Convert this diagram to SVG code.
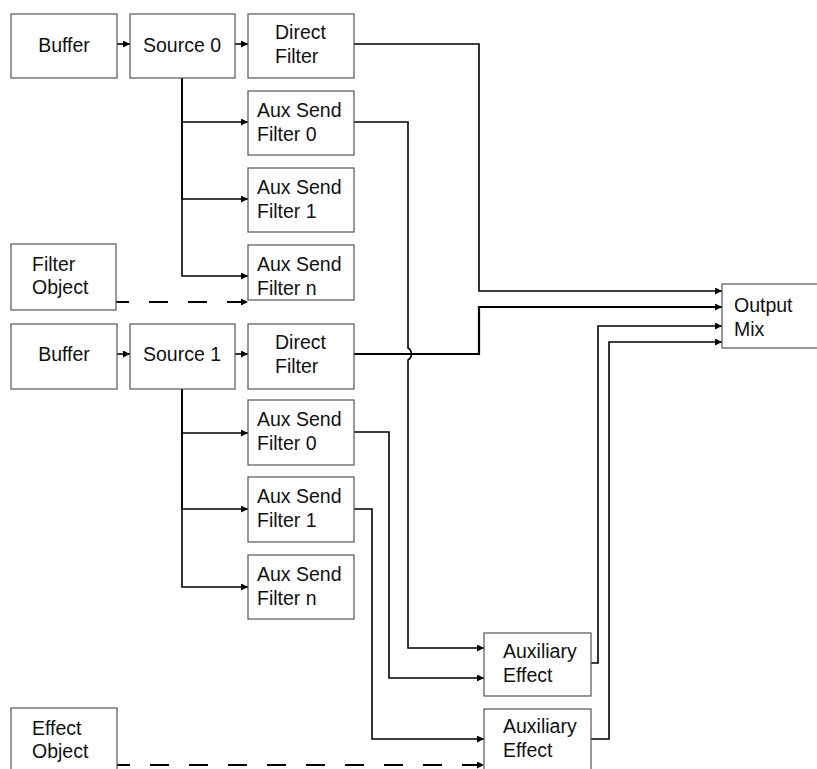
<svg xmlns="http://www.w3.org/2000/svg" width="817" height="769" viewBox="0 0 817 769">
<defs>
<style>
.box{fill:#fff;stroke:#555;stroke-width:1.2}
text{font-family:"Liberation Sans",Arial,sans-serif;font-size:19.5px;fill:#111}
.c{text-anchor:middle}
.ln{fill:none;stroke:#000;stroke-width:1.6;marker-end:url(#ah)}
.th{stroke-width:2.2}
.ds{fill:none;stroke:#000;stroke-width:1.8;stroke-dasharray:19 20;stroke-dashoffset:6;marker-end:url(#ah)}
</style>
<marker id="ah" viewBox="0 0 7 7" refX="7" refY="3.5" markerWidth="7" markerHeight="7" markerUnits="userSpaceOnUse" orient="auto">
<path d="M0,0 L7,3.5 L0,7 z" fill="#000"/>
</marker>
</defs>
<rect width="817" height="769" fill="#fff"/>
<g id="connectors">
<path class="ln" d="M117,44 H130"/>
<path class="ln" d="M235,44 H248"/>
<path class="ln" d="M182,78 V122 H248"/>
<path class="ln" d="M182,78 V199 H248"/>
<path class="ln" d="M182,78 V276 H248"/>
<path class="ds" d="M116,302 H248"/>
<path class="ln" d="M354,44 H479 V291 H722"/>
<path class="ln" d="M354,122 H408 V348 A7 7 0 0 1 408,360 V648 H484"/>
<path class="ln" d="M117,354 H130"/>
<path class="ln" d="M235,354 H248"/>
<path class="ln th" d="M354,354 H479 V307 H722"/>
<path class="ln" d="M182,389 V433 H248"/>
<path class="ln" d="M182,389 V509 H248"/>
<path class="ln" d="M182,389 V587 H248"/>
<path class="ln" d="M354,432 H389 V678 H484"/>
<path class="ln" d="M354,509 H372 V739 H484"/>
<path class="ln" d="M591,663 H598 V326 H722"/>
<path class="ln" d="M591,739 H609 V342 H722"/>
<path class="ds" d="M117,765 H484"/>
</g>
<g id="buffer0"><rect class="box" x="11" y="14" width="106" height="64"/><text class="c" x="64" y="52">Buffer</text></g>
<g id="source0"><rect class="box" x="130" y="14" width="105" height="64"/><text class="c" x="182" y="52">Source 0</text></g>
<g id="direct0"><rect class="box" x="248" y="14" width="106" height="64"/><text x="275" y="39">Direct</text><text x="275" y="63">Filter</text></g>
<g id="aux0_0"><rect class="box" x="248" y="91" width="106" height="64"/><text x="257" y="117">Aux Send</text><text x="257" y="141">Filter 0</text></g>
<g id="aux0_1"><rect class="box" x="248" y="168" width="106" height="64"/><text x="257" y="194">Aux Send</text><text x="257" y="218">Filter 1</text></g>
<g id="aux0_n"><rect class="box" x="248" y="245" width="106" height="55"/><text x="257" y="271">Aux Send</text><text x="257" y="295">Filter n</text></g>
<g id="filterobj"><rect class="box" x="11" y="244" width="105" height="66"/><text x="32" y="271">Filter</text><text x="32" y="294">Object</text></g>
<g id="buffer1"><rect class="box" x="11" y="324" width="106" height="65"/><text class="c" x="64" y="361">Buffer</text></g>
<g id="source1"><rect class="box" x="130" y="324" width="105" height="65"/><text class="c" x="182" y="361">Source 1</text></g>
<g id="direct1"><rect class="box" x="248" y="324" width="106" height="65"/><text x="275" y="349">Direct</text><text x="275" y="373">Filter</text></g>
<g id="aux1_0"><rect class="box" x="248" y="400" width="106" height="65"/><text x="257" y="426">Aux Send</text><text x="257" y="450">Filter 0</text></g>
<g id="aux1_1"><rect class="box" x="248" y="477" width="106" height="65"/><text x="257" y="503">Aux Send</text><text x="257" y="527">Filter 1</text></g>
<g id="aux1_n"><rect class="box" x="248" y="555" width="106" height="64"/><text x="257" y="581">Aux Send</text><text x="257" y="605">Filter n</text></g>
<g id="outputmix"><rect class="box" x="722" y="284" width="110" height="64"/><text x="734" y="312">Output</text><text x="734" y="336">Mix</text></g>
<g id="auxeffect0"><rect class="box" x="484" y="633" width="107" height="63"/><text x="503" y="658">Auxiliary</text><text x="503" y="682">Effect</text></g>
<g id="auxeffect1"><rect class="box" x="484" y="709" width="107" height="70"/><text x="503" y="733">Auxiliary</text><text x="503" y="757">Effect</text></g>
<g id="effectobj"><rect class="box" x="11" y="708" width="106" height="70"/><text x="32" y="735">Effect</text><text x="32" y="758">Object</text></g>
</svg>
